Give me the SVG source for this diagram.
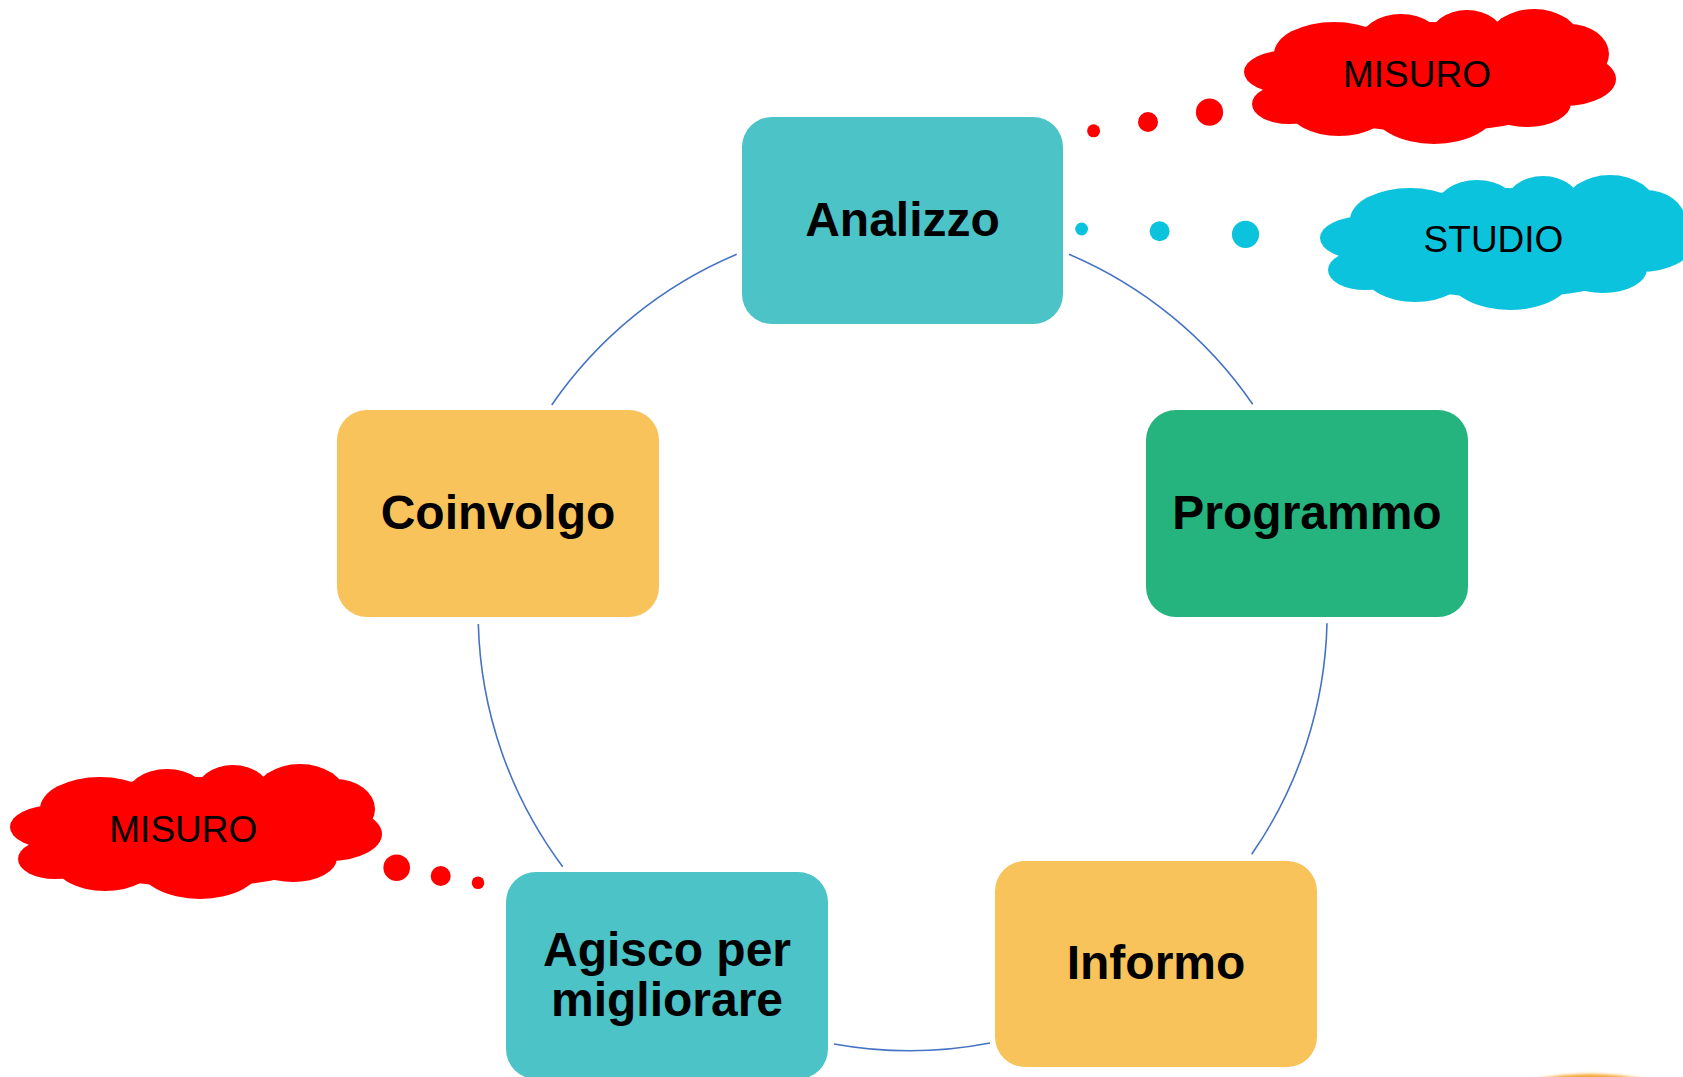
<svg xmlns="http://www.w3.org/2000/svg" xmlns:xlink="http://www.w3.org/1999/xlink" width="1683" height="1077" viewBox="0 0 1683 1077">
<style>
.node-text{font-family:"Liberation Sans",Arial,sans-serif;font-weight:bold;font-size:48px;fill:#000;text-anchor:middle}
.cloud-text{font-family:"Liberation Sans",Arial,sans-serif;font-size:37px;fill:#000;text-anchor:middle}
.teal{fill:#4BC3C7}
.orange{fill:#F9C35C}
.green{fill:#25B47E}
.conn{fill:none;stroke:#4472C4;stroke-width:1.6}
</style>
<defs>
<g id="cloud">
<ellipse cx="186" cy="68" rx="160" ry="55"/>
<ellipse cx="90" cy="45" rx="60" ry="32"/>
<ellipse cx="157" cy="35" rx="42" ry="30"/>
<ellipse cx="223" cy="30" rx="38" ry="29"/>
<ellipse cx="290" cy="32" rx="46" ry="32"/>
<ellipse cx="325" cy="45" rx="40" ry="30"/>
<ellipse cx="320" cy="70" rx="52" ry="27"/>
<ellipse cx="283" cy="94" rx="44" ry="24"/>
<ellipse cx="190" cy="100" rx="62" ry="35"/>
<ellipse cx="95" cy="100" rx="50" ry="27"/>
<ellipse cx="45" cy="95" rx="37" ry="20"/>
<ellipse cx="45" cy="63" rx="45" ry="22"/>
</g>
<filter id="blur" x="-20%" y="-20%" width="140%" height="140%"><feGaussianBlur stdDeviation="1.5"/></filter>
</defs>
<rect width="1683" height="1077" fill="#fff"/>

<g id="connectors">
<path class="conn" d="M1069,254.3 A424,424 0 0 1 1252.7,404.3"/>
<path class="conn" d="M1327,623.3 A424,424 0 0 1 1251.7,854.3"/>
<path class="conn" d="M990,1043 A424,424 0 0 1 834,1044"/>
<path class="conn" d="M562.7,866.7 A424,424 0 0 1 478.3,624"/>
<path class="conn" d="M551.7,405 A424,424 0 0 1 736.7,254.3"/>
</g>

<g id="node-analizzo">
<rect class="teal" x="742" y="117" width="321" height="207" rx="30"/>
<text class="node-text" x="902.5" y="236">Analizzo</text>
</g>
<g id="node-programmo">
<rect class="green" x="1146" y="410" width="322" height="207" rx="30"/>
<text class="node-text" x="1307" y="529">Programmo</text>
</g>
<g id="node-informo">
<rect class="orange" x="995" y="861" width="322" height="206" rx="30"/>
<text class="node-text" x="1156" y="979">Informo</text>
</g>
<g id="node-agisco">
<rect class="teal" x="506" y="872" width="322" height="207" rx="30"/>
<text class="node-text" x="667" y="966">Agisco per</text>
<text class="node-text" x="667" y="1016">migliorare</text>
</g>
<g id="node-coinvolgo">
<rect class="orange" x="337" y="410" width="322" height="207" rx="30"/>
<text class="node-text" x="498" y="529">Coinvolgo</text>
</g>

<g id="cloud-misuro-top">
<circle cx="1093.6" cy="130.8" r="6.5" fill="#FF0000"/>
<circle cx="1148" cy="122" r="10" fill="#FF0000"/>
<circle cx="1209.5" cy="112.2" r="13.6" fill="#FF0000"/>
<use xlink:href="#cloud" href="#cloud" transform="translate(1244,9)" fill="#FF0000"/>
<text class="cloud-text" x="1417" y="87">MISURO</text>
</g>
<g id="cloud-studio">
<circle cx="1081.6" cy="229" r="6.4" fill="#0BC3DC"/>
<circle cx="1159.6" cy="231.3" r="10" fill="#0BC3DC"/>
<circle cx="1245.5" cy="234.3" r="13.6" fill="#0BC3DC"/>
<use xlink:href="#cloud" href="#cloud" transform="translate(1320,175)" fill="#0BC3DC"/>
<text class="cloud-text" x="1493.5" y="252">STUDIO</text>
</g>
<g id="cloud-misuro-bottom">
<circle cx="396.7" cy="867.7" r="13.3" fill="#FF0000"/>
<circle cx="440.7" cy="876" r="10" fill="#FF0000"/>
<circle cx="478" cy="882.7" r="6.3" fill="#FF0000"/>
<use xlink:href="#cloud" href="#cloud" transform="translate(10,764)" fill="#FF0000"/>
<text class="cloud-text" x="183.3" y="842">MISURO</text>
</g>

<ellipse cx="1590" cy="1154" rx="150" ry="80" fill="#F5A52E" filter="url(#blur)"/>
</svg>
